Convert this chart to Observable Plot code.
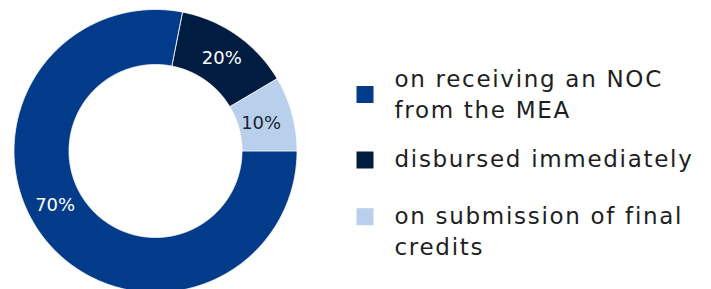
<!DOCTYPE html>
<html>
<head>
<meta charset="utf-8">
<script src="https://cdn.jsdelivr.net/npm/d3@7"></script>
<script src="https://cdn.jsdelivr.net/npm/@observablehq/plot@0.6"></script>
<style>
  html, body { margin: 0; padding: 0; background: #fff; }
  #chart { width: 711px; height: 289px; overflow: hidden; }
</style>
</head>
<body>
<div id="chart"></div>
<script>
// ---- data ----
const categories = ["on receiving an NOC from the MEA", "disbursed immediately", "on submission of final credits"];
const legendText = ["on receiving an NOC\nfrom the MEA", "disbursed immediately", "on submission of final\ncredits"];
const sliceValues = [78.1, 13.4, 8.5];      // arc sizes as drawn
const sliceLabels = ["70%", "20%", "10%"];  // printed labels
const colors = ["#033b8b", "#011c41", "#b9d0ec"];
const labelColors = ["#ffffff", "#ffffff", "#1c2230"];

// ---- layout ----
const cx = 155.5, cy = 151, rOut = 141.5, rIn = 86.5;
const start = 90; // degrees, clockwise from north
const labelFrac = [0.54, 0.5, 0.5];
const labelR = [114.4, 114, 109];
const squareY = [94.5, 160, 216.7];
const firstBaseline = [86.7, 166.7, 223.3];
const lineGap = 31;

const total = d3.sum(sliceValues);
const rad = a => a * Math.PI / 180;
const px = (a, r) => cx + r * Math.sin(rad(a));
const py = (a, r) => cy - r * Math.cos(rad(a));

const ringPts = [];
const labelPts = [];
let acc = start;
sliceValues.forEach((v, i) => {
  const a0 = acc, a1 = acc + v / total * 360;
  const n = Math.max(2, Math.ceil((a1 - a0) / 0.5));
  for (let k = 0; k <= n; k++) {
    const a = a0 + (a1 - a0) * k / n;
    ringPts.push({cat: categories[i], xi: px(a, rIn), yi: py(a, rIn), xo: px(a, rOut), yo: py(a, rOut)});
  }
  const am = a0 + (a1 - a0) * labelFrac[i];
  labelPts.push({t: sliceLabels[i], x: px(am, labelR[i]), y: py(am, labelR[i]), c: labelColors[i]});
  acc = a1;
});

const lineItems = [];
legendText.forEach((t, i) => {
  t.split("\n").forEach((line, j) => lineItems.push({t: line, y: firstBaseline[i] + j * lineGap}));
});

const svg = Plot.plot({
  width: 711,
  height: 289,
  margin: 0,
  x: {domain: [0, 711], range: [0, 711], axis: null},
  y: {domain: [0, 289], range: [0, 289], axis: null},
  color: {domain: categories, range: colors},
  style: {fontFamily: "DejaVu Sans", background: "white", overflow: "hidden"},
  marks: [
    Plot.area(ringPts, {x1: "xi", y1: "yi", x2: "xo", y2: "yo", z: "cat", fill: "cat", stroke: "white", strokeWidth: 0.8}),
    Plot.text(labelPts, {x: "x", y: "y", text: "t", fill: "c", fontSize: 18, textAnchor: "middle", lineAnchor: "middle"}),
    Plot.rect(categories, {x1: () => 356.5, x2: () => 373.5, y1: (d, i) => squareY[i] - 8.5, y2: (d, i) => squareY[i] + 8.5, fill: d => d, inset: 0}),
    Plot.text(lineItems, {x: () => 394, y: "y", text: "t", fill: "#1e1e1e", fontSize: 23, textAnchor: "start", lineAnchor: "bottom"})
  ]
});
const textGroups = svg.querySelectorAll('g[aria-label="text"]');
textGroups[textGroups.length - 1].querySelectorAll("text").forEach(t => t.setAttribute("letter-spacing", "1.7"));
document.getElementById("chart").appendChild(svg);
</script>
</body>
</html>
